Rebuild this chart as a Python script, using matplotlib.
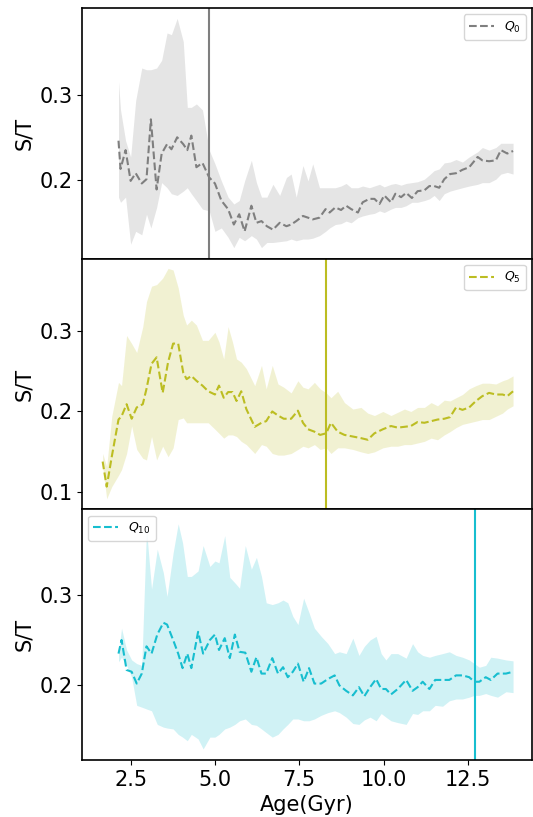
import matplotlib
matplotlib.use("Agg")
import matplotlib.pyplot as plt
import numpy as np

# ---------------- Panel 1 : Q0 ----------------
age_q0 = [2.14, 2.20, 2.35, 2.50, 2.65, 2.83, 2.97, 3.10, 3.27, 3.42, 3.58, 3.71, 3.88, 4.06, 4.18,
          4.30, 4.45, 4.63, 4.83, 5.00, 5.19, 5.39, 5.56, 5.72, 5.88, 6.08, 6.23, 6.38, 6.54, 6.72,
          6.92, 7.12, 7.26, 7.41, 7.61, 7.76, 7.90, 8.10, 8.28, 8.40, 8.57, 8.74, 8.89, 9.04, 9.24,
          9.38, 9.58, 9.73, 9.88, 10.02, 10.22, 10.35, 10.52, 10.67, 10.84, 11.01, 11.21, 11.36,
          11.50, 11.65, 11.80, 11.97, 12.15, 12.34, 12.54, 12.79, 12.93, 13.13, 13.33, 13.48,
          13.67, 13.84]
mid_q0 = [0.246, 0.213, 0.235, 0.199, 0.208, 0.196, 0.201, 0.271, 0.189, 0.231, 0.242, 0.236, 0.250,
          0.242, 0.235, 0.252, 0.215, 0.220, 0.203, 0.196, 0.176, 0.166, 0.148, 0.160, 0.140, 0.170,
          0.150, 0.152, 0.146, 0.142, 0.150, 0.146, 0.148, 0.152, 0.158, 0.156, 0.154, 0.156, 0.166,
          0.162, 0.168, 0.165, 0.170, 0.166, 0.162, 0.174, 0.178, 0.178, 0.172, 0.182, 0.174, 0.184,
          0.180, 0.185, 0.179, 0.187, 0.188, 0.193, 0.193, 0.191, 0.201, 0.207, 0.208, 0.212, 0.215,
          0.227, 0.223, 0.222, 0.223, 0.235, 0.231, 0.234]
up_q0 = [0.315, 0.282, 0.246, 0.227, 0.293, 0.331, 0.329, 0.329, 0.331, 0.340, 0.372, 0.370, 0.389,
         0.362, 0.285, 0.285, 0.289, 0.282, 0.235, 0.219, 0.199, 0.180, 0.172, 0.176, 0.199, 0.223,
         0.197, 0.180, 0.180, 0.195, 0.182, 0.203, 0.207, 0.180, 0.217, 0.199, 0.219, 0.191, 0.191,
         0.191, 0.191, 0.193, 0.196, 0.191, 0.191, 0.193, 0.191, 0.193, 0.195, 0.192, 0.195, 0.196,
         0.194, 0.196, 0.197, 0.198, 0.201, 0.206, 0.211, 0.213, 0.220, 0.221, 0.224, 0.221, 0.227,
         0.233, 0.238, 0.235, 0.238, 0.243, 0.243, 0.243]
lo_q0 = [0.180, 0.174, 0.180, 0.125, 0.140, 0.136, 0.160, 0.144, 0.168, 0.197, 0.191, 0.184, 0.182,
         0.187, 0.191, 0.184, 0.176, 0.166, 0.164, 0.140, 0.144, 0.133, 0.121, 0.133, 0.129, 0.135,
         0.131, 0.121, 0.127, 0.127, 0.128, 0.129, 0.131, 0.129, 0.131, 0.131, 0.132, 0.135, 0.140,
         0.144, 0.148, 0.149, 0.152, 0.150, 0.156, 0.158, 0.160, 0.161, 0.164, 0.162, 0.166, 0.168,
         0.168, 0.170, 0.174, 0.174, 0.176, 0.178, 0.182, 0.176, 0.184, 0.187, 0.189, 0.191, 0.193,
         0.195, 0.197, 0.197, 0.201, 0.207, 0.209, 0.207]
vline_q0 = 4.82

# ---------------- Panel 2 : Q5 ----------------
age_q5 = [1.67, 1.79, 1.94, 2.14, 2.23, 2.38, 2.53, 2.68, 2.86, 2.97, 3.12, 3.27, 3.45, 3.61, 3.76,
          3.91, 4.06, 4.16, 4.30, 4.45, 4.63, 4.80, 5.00, 5.12, 5.26, 5.39, 5.52, 5.64, 5.78, 5.93,
          6.18, 6.38, 6.52, 6.70, 6.87, 7.04, 7.26, 7.46, 7.61, 7.76, 7.95, 8.12, 8.30, 8.44, 8.64,
          8.84, 9.09, 9.33, 9.53, 9.73, 9.98, 10.22, 10.42, 10.62, 10.81, 11.01, 11.21, 11.41, 11.60,
          11.80, 11.97, 12.15, 12.34, 12.54, 12.74, 12.93, 13.13, 13.33, 13.53, 13.67, 13.84]
mid_q5 = [0.138, 0.107, 0.144, 0.190, 0.194, 0.209, 0.191, 0.205, 0.209, 0.228, 0.259, 0.267, 0.223,
          0.261, 0.284, 0.284, 0.248, 0.240, 0.244, 0.238, 0.232, 0.225, 0.221, 0.232, 0.217, 0.224,
          0.224, 0.213, 0.225, 0.203, 0.181, 0.186, 0.188, 0.200, 0.195, 0.191, 0.191, 0.201, 0.186,
          0.178, 0.175, 0.171, 0.173, 0.186, 0.175, 0.171, 0.169, 0.167, 0.165, 0.173, 0.178, 0.182,
          0.180, 0.181, 0.182, 0.187, 0.186, 0.188, 0.190, 0.191, 0.193, 0.205, 0.202, 0.205, 0.213,
          0.219, 0.223, 0.221, 0.221, 0.219, 0.225]
up_q5 = [0.148, 0.132, 0.194, 0.236, 0.232, 0.294, 0.284, 0.273, 0.305, 0.336, 0.355, 0.357, 0.365,
         0.377, 0.375, 0.353, 0.319, 0.307, 0.313, 0.307, 0.288, 0.288, 0.298, 0.286, 0.265, 0.305,
         0.286, 0.265, 0.261, 0.253, 0.232, 0.257, 0.228, 0.257, 0.234, 0.230, 0.223, 0.238, 0.230,
         0.228, 0.236, 0.228, 0.223, 0.217, 0.225, 0.211, 0.203, 0.205, 0.198, 0.195, 0.200, 0.195,
         0.199, 0.203, 0.200, 0.205, 0.205, 0.211, 0.207, 0.214, 0.213, 0.217, 0.221, 0.228, 0.232,
         0.235, 0.235, 0.234, 0.238, 0.240, 0.244]
lo_q5 = [0.132, 0.092, 0.107, 0.121, 0.128, 0.148, 0.182, 0.153, 0.142, 0.140, 0.169, 0.140, 0.157,
         0.144, 0.155, 0.190, 0.192, 0.186, 0.186, 0.186, 0.186, 0.186, 0.178, 0.173, 0.167, 0.171,
         0.171, 0.169, 0.163, 0.159, 0.148, 0.159, 0.157, 0.148, 0.146, 0.146, 0.148, 0.153, 0.157,
         0.155, 0.159, 0.153, 0.155, 0.148, 0.155, 0.155, 0.153, 0.150, 0.148, 0.150, 0.155, 0.157,
         0.157, 0.159, 0.159, 0.161, 0.163, 0.167, 0.165, 0.171, 0.175, 0.180, 0.184, 0.186, 0.188,
         0.190, 0.190, 0.194, 0.198, 0.203, 0.207]
vline_q5 = 8.30

# ---------------- Panel 3 : Q10 ----------------
age_q10 = [2.14, 2.23, 2.38, 2.53, 2.68, 2.83, 2.97, 3.12, 3.29, 3.47, 3.58, 3.76, 3.91, 4.04, 4.18,
           4.30, 4.50, 4.65, 4.85, 5.00, 5.12, 5.29, 5.44, 5.59, 5.73, 5.90, 6.08, 6.23, 6.38, 6.52,
           6.70, 6.87, 7.02, 7.16, 7.31, 7.46, 7.63, 7.79, 7.95, 8.15, 8.35, 8.55, 8.69, 8.89, 9.09,
           9.27, 9.43, 9.60, 9.78, 9.93, 10.07, 10.22, 10.42, 10.67, 10.86, 11.01, 11.16, 11.36,
           11.53, 11.75, 11.95, 12.15, 12.34, 12.54, 12.69, 12.84, 13.03, 13.18, 13.38, 13.63, 13.84]
mid_q10 = [0.235, 0.250, 0.217, 0.215, 0.202, 0.213, 0.243, 0.235, 0.256, 0.269, 0.267, 0.250, 0.235,
           0.219, 0.235, 0.219, 0.259, 0.235, 0.250, 0.256, 0.239, 0.252, 0.230, 0.256, 0.237, 0.236,
           0.215, 0.231, 0.213, 0.213, 0.230, 0.213, 0.220, 0.209, 0.215, 0.224, 0.204, 0.219, 0.202,
           0.202, 0.207, 0.211, 0.200, 0.194, 0.189, 0.198, 0.188, 0.198, 0.207, 0.196, 0.196, 0.190,
           0.196, 0.206, 0.194, 0.198, 0.204, 0.196, 0.206, 0.206, 0.206, 0.211, 0.211, 0.209, 0.204,
           0.204, 0.209, 0.206, 0.213, 0.213, 0.215]
up_q10 = [0.235, 0.263, 0.239, 0.228, 0.224, 0.222, 0.372, 0.306, 0.350, 0.324, 0.298, 0.346, 0.378,
          0.357, 0.320, 0.320, 0.326, 0.354, 0.331, 0.337, 0.335, 0.365, 0.319, 0.313, 0.307, 0.354,
          0.328, 0.341, 0.320, 0.291, 0.289, 0.291, 0.294, 0.291, 0.276, 0.267, 0.296, 0.280, 0.263,
          0.254, 0.246, 0.235, 0.237, 0.235, 0.252, 0.233, 0.243, 0.250, 0.254, 0.235, 0.228, 0.235,
          0.235, 0.230, 0.246, 0.237, 0.233, 0.231, 0.233, 0.235, 0.237, 0.233, 0.231, 0.228, 0.224,
          0.220, 0.222, 0.231, 0.230, 0.228, 0.227]
lo_q10 = [0.226, 0.231, 0.222, 0.209, 0.178, 0.176, 0.174, 0.172, 0.157, 0.154, 0.153, 0.152, 0.146,
          0.143, 0.139, 0.146, 0.141, 0.130, 0.143, 0.143, 0.146, 0.152, 0.154, 0.157, 0.161, 0.163,
          0.157, 0.156, 0.152, 0.148, 0.143, 0.146, 0.152, 0.157, 0.163, 0.163, 0.161, 0.161, 0.163,
          0.167, 0.170, 0.172, 0.170, 0.165, 0.158, 0.157, 0.162, 0.165, 0.161, 0.169, 0.165, 0.161,
          0.159, 0.157, 0.169, 0.168, 0.172, 0.172, 0.178, 0.177, 0.183, 0.185, 0.185, 0.187, 0.189,
          0.189, 0.191, 0.189, 0.187, 0.193, 0.192]
vline_q10 = 12.70

panels = [
    dict(age=age_q0, mid=mid_q0, up=up_q0, lo=lo_q0, vline=vline_q0, color="tab:gray",
         label=r"$Q_0$", loc="upper right", ylim=(0.108, 0.401), yticks=[0.2, 0.3]),
    dict(age=age_q5, mid=mid_q5, up=up_q5, lo=lo_q5, vline=vline_q5, color="tab:olive",
         label=r"$Q_5$", loc="upper right", ylim=(0.079, 0.389), yticks=[0.1, 0.2, 0.3]),
    dict(age=age_q10, mid=mid_q10, up=up_q10, lo=lo_q10, vline=vline_q10, color="tab:cyan",
         label=r"$Q_{10}$", loc="upper left", ylim=(0.118, 0.394), yticks=[0.2, 0.3]),
]

fig, axes = plt.subplots(3, 1, figsize=(5.33, 8.17), dpi=100, sharex=True)
fig.subplots_adjust(left=0.154, right=0.998, top=0.990, bottom=0.070, hspace=0.0)

for i, (ax, p) in enumerate(zip(axes, panels)):
    ax.fill_between(p["age"], p["lo"], p["up"], color=p["color"], alpha=0.2, linewidth=0)
    ax.plot(p["age"], p["mid"], linestyle="--", color=p["color"], linewidth=1.5, label=p["label"])
    ax.axvline(p["vline"], color=p["color"], linewidth=1.5)
    ax.set_ylim(*p["ylim"])
    ax.set_yticks(p["yticks"])
    ax.set_ylabel("S/T", fontsize=15)
    ax.tick_params(axis="both", labelsize=15)
    ax.legend(loc=p["loc"], fontsize=9)
    for s in ax.spines.values():
        s.set_linewidth(1.2)
    if i < 2:
        ax.tick_params(axis="x", bottom=False)

axes[-1].set_xlim(1.06, 14.40)
axes[-1].set_xticks([2.5, 5.0, 7.5, 10.0, 12.5])
axes[-1].set_xlabel("Age(Gyr)", fontsize=15)

fig.savefig("out.png", dpi=100)
